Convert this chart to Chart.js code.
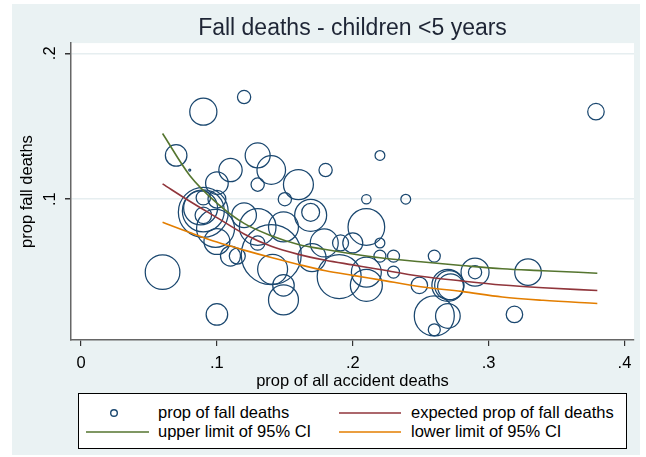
<!DOCTYPE html>
<html>
<head>
<meta charset="utf-8">
<title>Fall deaths - children &lt;5 years</title>
<script src="https://cdn.jsdelivr.net/npm/chart.js@4.4.1/dist/chart.umd.min.js"></script>
<style>
  html, body { margin: 0; padding: 0; background: #fff; }
  #wrap { position: relative; width: 646px; height: 457px; font-family: "Liberation Sans", Arial, sans-serif; }
  #chart { position: absolute; left: 0; top: 0; }
  #legend { position: absolute; left: 78px; top: 393px; width: 549px; height: 56px; box-sizing: border-box;
            background: #fff; border: 1px solid #000; font-size: 16.5px; color: #000; }
  #legend svg { position: absolute; left: 0; top: 0; }
  #legend .txt { position: absolute; white-space: nowrap; line-height: 19px; }
</style>
</head>
<body>
<div id="wrap">
  <canvas id="chart" width="646" height="457"></canvas>
  <div id="legend"></div>
</div>
<script>
// bubbles: proportion of all accident deaths (x), proportion of fall deaths (y), relative weight
var fallX = [0.120, 0.090, 0.379, 0.070, 0.130, 0.220, 0.080, 0.110, 0.140, 0.180,
             0.100, 0.130, 0.160, 0.100, 0.150, 0.210, 0.239, 0.090, 0.090, 0.088,
             0.090, 0.090, 0.099, 0.100, 0.110, 0.115, 0.060, 0.100, 0.120, 0.130,
             0.130, 0.149, 0.140, 0.141, 0.149, 0.149, 0.169, 0.169, 0.179, 0.191,
             0.200, 0.170, 0.190, 0.210, 0.220, 0.220, 0.230, 0.230, 0.260, 0.210,
             0.210, 0.249, 0.270, 0.271, 0.272, 0.290, 0.290, 0.329, 0.260, 0.270,
             0.260, 0.319];
var fallY = [0.170, 0.160, 0.160, 0.130, 0.130, 0.130, 0.120, 0.120, 0.120, 0.120,
             0.111, 0.110, 0.110, 0.100, 0.100, 0.100, 0.100, 0.091, 0.092, 0.094,
             0.101, 0.089, 0.080, 0.071, 0.061, 0.061, 0.050, 0.021, 0.089, 0.070,
             0.081, 0.081, 0.062, 0.052, 0.041, 0.031, 0.089, 0.091, 0.070, 0.070,
             0.070, 0.060, 0.047, 0.081, 0.070, 0.061, 0.061, 0.050, 0.061, 0.050,
             0.041, 0.041, 0.041, 0.041, 0.040, 0.050, 0.050, 0.050, 0.020, 0.020,
             0.0105, 0.021];
var fallWeight = [11, 46, 17, 29, 39, 6, 0.25, 34, 51, 11,
                  32, 11, 56, 20, 11, 5.5, 6, 156, 110, 72,
                  13, 17, 90, 42, 25, 16, 75, 29, 38, 13,
                  84, 56, 225, 56, 29, 56, 64, 20, 49, 16,
                  25, 49, 121, 84, 6, 9, 9, 9, 9, 56,
                  64, 17, 64, 53, 42, 49, 11, 44, 100, 38,
                  9, 17];

// fitted curves
var curveX = [0.06, 0.08, 0.10, 0.12, 0.14, 0.16, 0.18, 0.20, 0.22, 0.25, 0.28, 0.31, 0.34, 0.38];
var expected = [0.1105, 0.0986, 0.0874, 0.0762, 0.0677, 0.0622, 0.0582, 0.0550, 0.0518, 0.0472, 0.0440, 0.0412, 0.0393, 0.0374];
var upperCI = [0.1450, 0.1163, 0.0973, 0.0834, 0.0750, 0.0690, 0.0655, 0.0625, 0.0599, 0.0571, 0.0546, 0.0523, 0.0510, 0.0493];
var lowerCI = [0.0842, 0.0772, 0.0706, 0.0651, 0.0600, 0.0553, 0.0510, 0.0478, 0.0447, 0.0400, 0.0368, 0.0330, 0.0307, 0.0285];

var xTicks = [0, 0.1, 0.2, 0.3, 0.4];
var xTickLabels = ['0', '.1', '.2', '.3', '.4'];
var yTicks = [0.1, 0.2];
var yTickLabels = ['.1', '.2'];

var FONT = '"Liberation Sans", Arial, sans-serif';
var NAVY = '#1a476f', MAROON = '#90353b', GREEN = '#55752f', ORANGE = '#e37e00';

function pts(xs, ys) {
    return xs.map((x, i) => ({ x: x, y: ys[i] }));
}

// Stata-like backgrounds: light graph region, white plot region
var regionBg = {
    id: 'regionBg',
    beforeDraw(chart) {
        var ctx = chart.ctx, a = chart.chartArea;
        ctx.save();
        ctx.fillStyle = '#ffffff';
        ctx.fillRect(0, 0, chart.width, chart.height);
        ctx.fillStyle = '#eaf2f3';
        ctx.fillRect(12, 4, 628, 451);
        ctx.fillStyle = '#ffffff';
        ctx.fillRect(a.left, a.top, a.right - a.left, a.bottom - a.top);
        ctx.restore();
    }
};

var lineStyle = { type: 'line', borderWidth: 1.6, pointRadius: 0, fill: false,
                  cubicInterpolationMode: 'monotone', order: 0 };

var chart = new Chart(document.getElementById('chart').getContext('2d'), {
    type: 'bubble',
    data: {
        datasets: [
            {
                label: 'prop of fall deaths',
                data: fallX.map((x, i) => ({ x: x, y: fallY[i], r: Math.sqrt(fallWeight[i]) * 2 })),
                borderColor: NAVY,
                backgroundColor: 'rgba(0,0,0,0)',
                borderWidth: 1.25,
                order: 1
            },
            Object.assign({ label: 'expected prop of fall deaths', data: pts(curveX, expected), borderColor: MAROON }, lineStyle),
            Object.assign({ label: 'upper limit of 95% CI', data: pts(curveX, upperCI), borderColor: GREEN }, lineStyle),
            Object.assign({ label: 'lower limit of 95% CI', data: pts(curveX, lowerCI), borderColor: ORANGE }, lineStyle)
        ]
    },
    options: {
        responsive: false,
        devicePixelRatio: 1,
        animation: false,
        events: [],
        layout: { autoPadding: false, padding: { left: 0, top: 0, right: 12, bottom: 57 } },
        scales: {
            x: {
                type: 'linear',
                min: -0.0074,
                max: 0.407,
                afterBuildTicks: s => { s.ticks = xTicks.map(v => ({ value: v })); },
                afterFit: s => { s.height = 60; s.paddingLeft = 0; s.paddingRight = 0; },
                ticks: {
                    autoSkip: false, minRotation: 0, maxRotation: 0, padding: 8,
                    color: '#000', font: { family: FONT, size: 16.5 },
                    callback: (v, i) => xTickLabels[i]
                },
                grid: { drawOnChartArea: false, tickColor: '#333', tickLength: 6, lineWidth: 1.2 },
                border: { display: true, color: '#666', width: 1.5 },
                title: {
                    display: true, text: 'prop of all accident deaths', color: '#000',
                    font: { family: FONT, size: 16.5 }, padding: { top: 0, bottom: 9 }
                }
            },
            y: {
                type: 'linear',
                min: 0.0035,
                max: 0.207,
                afterBuildTicks: s => { s.ticks = yTicks.map(v => ({ value: v })); },
                afterFit: s => { s.width = 71; s.paddingTop = 0; s.paddingBottom = 0; },
                ticks: {
                    autoSkip: false, minRotation: 90, maxRotation: 90, crossAlign: 'center', padding: 8,
                    color: '#000', font: { family: FONT, size: 16.5 },
                    callback: (v, i) => yTickLabels[i]
                },
                grid: { color: '#e6eef0', lineWidth: 1.5, tickColor: '#333', tickLength: 6 },
                border: { display: true, color: '#666', width: 1.5 },
                title: {
                    display: true, text: 'prop fall deaths', color: '#000',
                    font: { family: FONT, size: 16.5 }, padding: { top: 18, bottom: 0 }
                }
            }
        },
        plugins: {
            legend: { display: false },
            tooltip: { enabled: false },
            title: {
                display: true,
                text: 'Fall deaths - children <5 years',
                fullSize: false,
                color: '#1e2535',
                font: { family: FONT, size: 23, weight: 'normal' },
                padding: { top: 15, bottom: 0.5 }
            }
        }
    },
    plugins: [regionBg]
});

// Legend box in two columns, built from the chart's datasets
function buildLegend() {
    var box = document.getElementById('legend');
    var slots = [
        { key: [7, 70], text: 79, y: 19 },
        { key: [260, 322], text: 332, y: 19 },
        { key: [7, 70], text: 79, y: 38 },
        { key: [260, 322], text: 332, y: 38 }
    ];
    var svg = '<svg width="549" height="56" xmlns="http://www.w3.org/2000/svg">';
    var html = '';
    chart.data.datasets.forEach(function (ds, i) {
        var s = slots[i];
        if (ds.type === 'line') {
            svg += '<line x1="' + s.key[0] + '" y1="' + s.y + '" x2="' + s.key[1] + '" y2="' + s.y +
                   '" stroke="' + ds.borderColor + '" stroke-width="1.6"/>';
        } else {
            svg += '<circle cx="35" cy="' + s.y + '" r="3.3" fill="none" stroke="' + ds.borderColor + '" stroke-width="1.4"/>';
        }
        html += '<div class="txt" style="left:' + s.text + 'px;top:' + (s.y - 10.5) + 'px">' + ds.label + '</div>';
    });
    svg += '</svg>';
    box.innerHTML = svg + html;
}
buildLegend();
</script>
</body>
</html>
